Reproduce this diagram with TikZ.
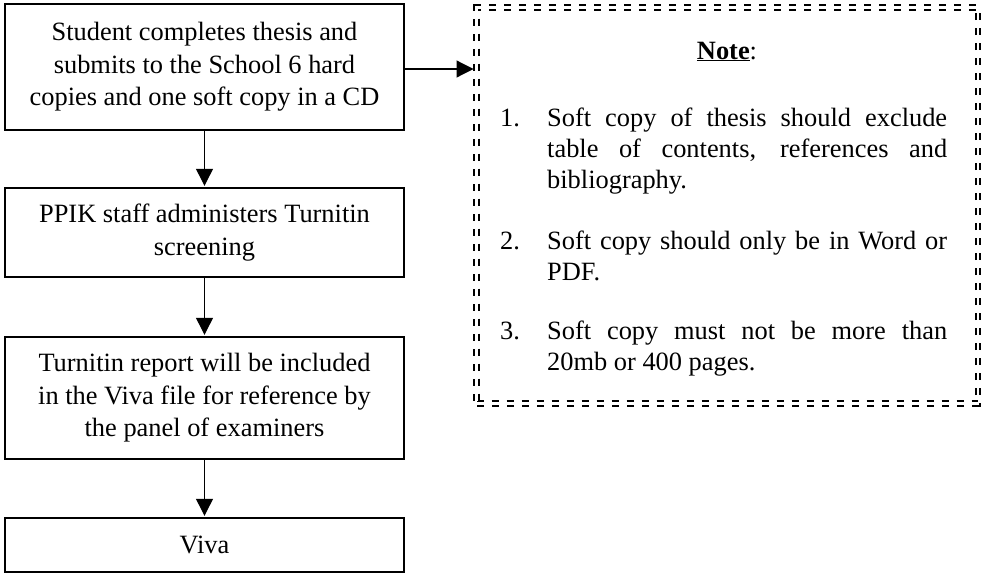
\documentclass[tikz,border=0pt]{standalone}
\usepackage{fontspec}
\setmainfont{Liberation Serif}
\usetikzlibrary{arrows.meta}
\begin{document}
\begin{tikzpicture}[x=1pt,y=-1pt,
  box/.style={draw, line width=1.4pt, minimum width=399pt, inner sep=0pt, align=center,
    font=\fontsize{26.4}{32.5}\selectfont},
  conn/.style={line width=1.2pt, -{Triangle[width=17pt,length=17pt]}, shorten >=1.5pt},
  notebox/.style={draw, double, double distance=2.2pt, line width=2.1pt,
    dash pattern=on 7pt off 8pt, inner sep=0pt, outer sep=0pt},
  notetxt/.style={font=\fontsize{26.4}{31}\selectfont, inner sep=0pt}]
\useasboundingbox (0,0) rectangle (988,573);
\node[box, minimum height=126pt] (b1) at (204.5,67)
  {Student completes thesis and\\submits to the School 6 hard\\copies and one soft copy in a CD};
\node[box, minimum height=89pt] (b2) at (204.5,232.5)
  {PPIK staff administers Turnitin\\screening};
\node[box, minimum height=122pt] (b3) at (204.5,398)
  {Turnitin report will be included\\in the Viva file for reference by\\the panel of examiners};
\node[box, minimum height=54pt] (b4) at (204.5,545) {Viva};
\node[notebox, minimum width=501.5pt, minimum height=396pt] (note) at (727.25,205.5) {};
\node[notetxt, anchor=base] (ntitle) at (727,59) {\underline{\textbf{Note}}:};
\node[notetxt, anchor=base west] (n1) at (500,126) {1.};
\node[notetxt, anchor=base west, text width=400pt, align=justify] (t1) at (547,126)
  {Soft copy of thesis should exclude\linebreak table of contents, references and\linebreak bibliography.};
\node[notetxt, anchor=base west] (n2) at (500,249) {2.};
\node[notetxt, anchor=base west, text width=400pt, align=justify] (t2) at (547,249)
  {Soft copy should only be in Word or\linebreak PDF.};
\node[notetxt, anchor=base west] (n3) at (500,339) {3.};
\node[notetxt, anchor=base west, text width=400pt, align=justify] (t3) at (547,339)
  {Soft copy must not be more than\linebreak 20mb or 400 pages.};
\draw[conn] (b1) -- (b2);
\draw[conn] (b2) -- (b3);
\draw[conn] (b3) -- (b4);
\draw[conn, shorten >=3pt] ([yshift=-2pt]b1.east) -- ([yshift=-2pt]b1.east -| note.west);
\end{tikzpicture}
\end{document}
